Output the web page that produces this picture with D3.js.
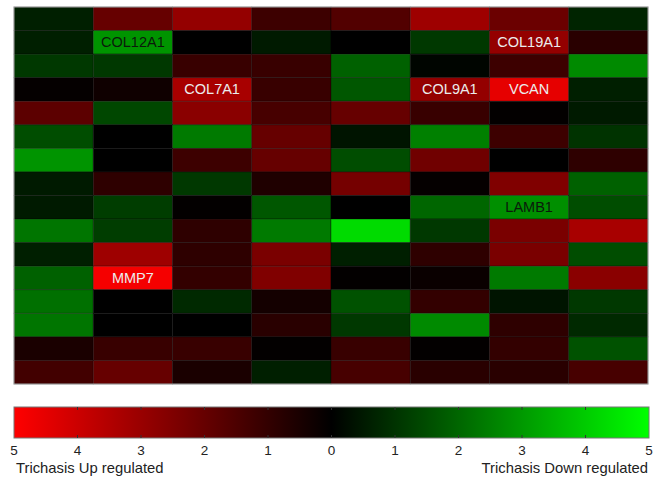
<!DOCTYPE html>
<html>
<head>
<meta charset="utf-8">
<script src="https://cdn.jsdelivr.net/npm/d3@7"></script>
<style>
  html, body { margin: 0; padding: 0; background: #fff; }
  svg { display: block; font-family: "Liberation Sans", Arial, Helvetica, sans-serif; }
</style>
</head>
<body>
<svg id="chart" width="664" height="478"></svg>
<script>
// Expression change per gene cell: positive = up regulated (red), negative = down regulated (green)
const columns = ["S1", "S2", "S3", "S4", "S5", "S6", "S7", "S8"];
const rows = d3.range(16).map(i => "R" + (i + 1));

const values = [
  [-0.6,  2.0,  2.9,  1.2,  1.6,  3.1,  2.1, -0.7],
  [-0.6, -2.9,  0.0, -0.5,  0.0, -1.1,  2.9,  0.8],
  [-1.1, -1.1,  1.1,  1.1, -1.9, -0.1,  1.2, -2.7],
  [ 0.1,  0.3,  3.3,  1.1, -1.7,  2.9,  4.5, -0.6],
  [ 1.8, -1.4,  2.7,  1.4,  2.0,  1.1,  0.05, -0.5],
  [-1.5,  0.0, -2.4,  2.0, -0.4, -2.5,  1.2, -1.0],
  [-2.9,  0.0,  1.2,  2.0, -1.5,  2.2,  0.0,  0.9],
  [-0.5,  0.9, -1.1,  0.6,  2.3,  0.1,  2.5, -1.9],
  [-0.5, -1.2,  0.05, -1.7, 0.0, -2.0, -2.8, -1.5],
  [-2.3, -1.2,  0.9, -2.4, -4.3, -1.1,  2.4,  3.3],
  [-0.6,  3.1,  0.9,  2.4, -0.6,  0.9,  2.4, -1.5],
  [-1.9,  4.8,  1.0,  2.5,  0.05, 0.2, -2.4,  2.7],
  [-2.2,  0.0, -0.8,  0.4, -1.6,  1.0, -0.4, -1.1],
  [-2.3,  0.0,  0.0,  0.8, -1.1, -2.7,  0.9, -0.8],
  [ 0.5,  1.1,  1.1,  0.05, 1.1,  0.05, 1.0, -1.6],
  [ 1.3,  2.0,  0.5, -0.6,  1.4,  0.8,  0.8,  1.4]
];

// Gene names written on individual cells
const geneLabels = [
  { row: 1,  col: 1, name: "COL12A1" },
  { row: 1,  col: 6, name: "COL19A1" },
  { row: 3,  col: 2, name: "COL7A1" },
  { row: 3,  col: 5, name: "COL9A1" },
  { row: 3,  col: 6, name: "VCAN" },
  { row: 8,  col: 6, name: "LAMB1" },
  { row: 11, col: 1, name: "MMP7" }
];

const colorbarTicks = [5, 4, 3, 2, 1, 0, -1, -2, -3, -4, -5];
const upLabel = "Trichasis Up regulated";
const downLabel = "Trichasis Down regulated";

const svg = d3.select("#chart");

const heat = { left: 14, right: 648, top: 7, bottom: 384 };
const x = d3.scaleBand().domain(columns).range([heat.left, heat.right]);
const y = d3.scaleBand().domain(rows).range([heat.top, heat.bottom]);

const color = d3.scaleLinear()
  .domain([-5, 0, 5])
  .range(["#00ff00", "#000000", "#ff0000"])
  .clamp(true);

const cells = [];
values.forEach((r, i) => r.forEach((v, j) => cells.push({ i, j, v })));

svg.append("g")
  .selectAll("rect")
  .data(cells)
  .join("rect")
  .attr("x", d => x(columns[d.j]))
  .attr("y", d => y(rows[d.i]))
  .attr("width", x.bandwidth())
  .attr("height", y.bandwidth())
  .attr("fill", d => color(d.v))
  .attr("stroke", "rgba(0,0,0,0.4)")
  .attr("stroke-width", 0.8);

svg.append("rect")
  .attr("x", heat.left).attr("y", heat.top)
  .attr("width", heat.right - heat.left).attr("height", heat.bottom - heat.top)
  .attr("fill", "none").attr("stroke", "#a8a8a8").attr("stroke-width", 1);

svg.append("g")
  .selectAll("text")
  .data(geneLabels)
  .join("text")
  .attr("x", d => x(columns[d.col]) + x.bandwidth() / 2)
  .attr("y", d => y(rows[d.row]) + y.bandwidth() / 2)
  .attr("text-anchor", "middle")
  .attr("dominant-baseline", "central")
  .attr("font-size", 14.5)
  .attr("fill", d => values[d.row][d.col] > 0 ? "#ececec" : "#0b1a0b")
  .text(d => d.name);

// Colour bar
const bar = { left: 14, right: 649, top: 407, bottom: 438 };
const cx = d3.scaleLinear().domain([5, -5]).range([bar.left, bar.right]);

const defs = svg.append("defs");
const grad = defs.append("linearGradient").attr("id", "cbar")
  .attr("x1", "0%").attr("x2", "100%").attr("y1", "0%").attr("y2", "0%");
[5, 0, -5].forEach(v => {
  grad.append("stop")
    .attr("offset", ((cx(v) - bar.left) / (bar.right - bar.left) * 100) + "%")
    .attr("stop-color", color(v));
});

svg.append("rect")
  .attr("x", bar.left).attr("y", bar.top)
  .attr("width", bar.right - bar.left).attr("height", bar.bottom - bar.top)
  .attr("fill", "url(#cbar)")
  .attr("stroke", "#777").attr("stroke-width", 1);

const tickG = svg.append("g");
tickG.selectAll("line.top")
  .data(colorbarTicks.slice(1, -1))
  .join("line")
  .attr("x1", d => cx(d)).attr("x2", d => cx(d))
  .attr("y1", bar.top).attr("y2", bar.top + 3)
  .attr("stroke", "#333").attr("stroke-width", 1);
tickG.selectAll("line.bottom")
  .data(colorbarTicks.slice(1, -1))
  .join("line")
  .attr("x1", d => cx(d)).attr("x2", d => cx(d))
  .attr("y1", bar.bottom - 3).attr("y2", bar.bottom)
  .attr("stroke", "#333").attr("stroke-width", 1);

svg.append("g")
  .selectAll("text")
  .data(colorbarTicks)
  .join("text")
  .attr("x", d => cx(d))
  .attr("y", 455)
  .attr("text-anchor", "middle")
  .attr("font-size", 13.5)
  .attr("fill", "#222")
  .text(d => Math.abs(d));

svg.append("text")
  .attr("x", 16).attr("y", 472.5)
  .attr("font-size", 14.8).attr("fill", "#222")
  .text(upLabel);

svg.append("text")
  .attr("x", 648).attr("y", 472.5)
  .attr("text-anchor", "end")
  .attr("font-size", 14.8).attr("fill", "#222")
  .text(downLabel);
</script>
</body>
</html>
